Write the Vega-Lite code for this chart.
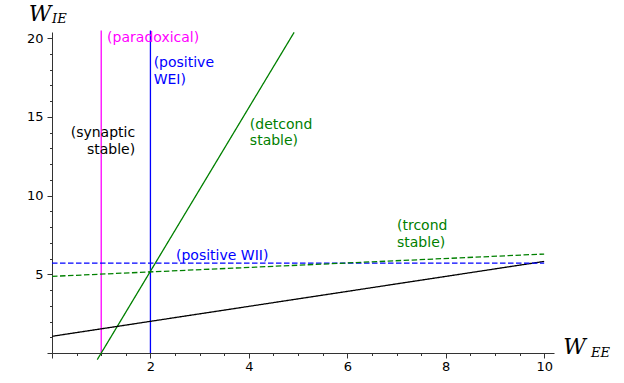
{
  "$schema": "https://vega.github.io/schema/vega-lite/v6.json",
  "width": 502,
  "height": 321,
  "autosize": "none",
  "padding": {"left": 52, "top": 32, "right": 70, "bottom": 30},
  "config": {
    "view": {"stroke": null},
    "axis": {"grid": false, "domainColor": "#333", "tickColor": "#333", "labelColor": "#000", "labelFont": "DejaVu Sans", "labelFontSize": 13, "domainWidth": 1, "tickWidth": 1}
  },
  "datasets": {
    "lines": [
      {"series": "paradoxical", "i": 0, "x": 1, "y": 0},
      {"series": "paradoxical", "i": 1, "x": 1, "y": 20.5},
      {"series": "positive WEI", "i": 0, "x": 2, "y": 0},
      {"series": "positive WEI", "i": 1, "x": 2, "y": 20.5},
      {"series": "detcond stable", "i": 0, "x": 0.92, "y": -0.42},
      {"series": "detcond stable", "i": 1, "x": 4.92, "y": 20.38},
      {"series": "synaptic stable", "i": 0, "x": 0, "y": 1.06},
      {"series": "synaptic stable", "i": 1, "x": 10, "y": 5.82},
      {"series": "positive WII", "i": 0, "x": 0, "y": 5.71},
      {"series": "positive WII", "i": 1, "x": 10, "y": 5.71},
      {"series": "trcond stable", "i": 0, "x": 0, "y": 4.87},
      {"series": "trcond stable", "i": 1, "x": 10, "y": 6.29}
    ],
    "labels": [
      {"series": "paradoxical", "label": "(paradoxical)", "x": 1.12, "y": 19.75},
      {"series": "positive WEI", "label": "(positive\nWEI)", "x": 2.065, "y": 18.16},
      {"series": "detcond stable", "label": "(detcond\nstable)", "x": 4.02, "y": 14.25},
      {"series": "trcond stable", "label": "(trcond\nstable)", "x": 7.01, "y": 7.79},
      {"series": "positive WII", "label": "(positive WII)", "x": 2.52, "y": 5.93}
    ],
    "rlabels": [
      {"series": "synaptic stable", "label": "(synaptic\nstable)", "x": 1.69, "y": 13.71}
    ],
    "symbols": [
      {"label": "W", "x": -0.47, "y": 21.09},
      {"label": "W", "x": 10.39, "y": -0.06}
    ],
    "subs": [
      {"label": "IE", "x": 0.0, "y": 21.0},
      {"label": "EE", "x": 10.95, "y": -0.24}
    ]
  },
  "resolve": {"axis": {"x": "independent", "y": "independent"}},
  "layer": [
    {
      "data": {"name": "lines"},
      "mark": {"type": "line", "strokeWidth": 1.3, "clip": false},
      "encoding": {
        "x": {"field": "x", "type": "quantitative", "scale": {"domain": [0, 10.2], "nice": false, "zero": false},
          "axis": {"orient": "bottom", "values": [0, 2, 4, 6, 8, 10], "labelExpr": "datum.value == 0 ? '' : datum.label", "tickSize": 5, "labelPadding": 2, "title": null}},
        "y": {"field": "y", "type": "quantitative", "scale": {"domain": [0, 20.4], "nice": false, "zero": false},
          "axis": {"orient": "left", "values": [0, 5, 10, 15, 20], "labelExpr": "datum.value == 0 ? '' : datum.label", "tickSize": 5, "labelPadding": 4, "title": null}},
        "detail": {"field": "series"},
        "order": {"field": "i"},
        "color": {"field": "series", "type": "nominal",
          "scale": {"domain": ["paradoxical", "positive WEI", "detcond stable", "synaptic stable", "positive WII", "trcond stable"],
                    "range": ["#ff00ff", "#0000ff", "#008000", "#000000", "#0000ff", "#008000"]}, "legend": null},
        "strokeDash": {"field": "series", "type": "nominal",
          "scale": {"domain": ["paradoxical", "positive WEI", "detcond stable", "synaptic stable", "positive WII", "trcond stable"],
                    "range": [[1, 0], [1, 0], [1, 0], [1, 0], [5.5, 2.5], [5.5, 2.5]]}, "legend": null}
      }
    },
    {
      "data": {"name": "lines"},
      "mark": {"type": "point", "opacity": 0},
      "encoding": {
        "x": {"field": "x", "type": "quantitative",
          "axis": {"orient": "bottom", "values": [0.5, 1, 1.5, 2.5, 3, 3.5, 4.5, 5, 5.5, 6.5, 7, 7.5, 8.5, 9, 9.5], "labels": false, "domain": false, "tickSize": 2.5, "title": null}},
        "y": {"field": "y", "type": "quantitative",
          "axis": {"orient": "left", "values": [1, 2, 3, 4, 6, 7, 8, 9, 11, 12, 13, 14, 16, 17, 18, 19], "labels": false, "domain": false, "tickSize": 2.5, "title": null}}
      }
    },
    {
      "data": {"name": "labels"},
      "mark": {"type": "text", "align": "left", "baseline": "alphabetic", "font": "DejaVu Sans", "fontSize": 14, "lineBreak": "\n", "lineHeight": 16.5, "clip": false},
      "encoding": {
        "x": {"field": "x", "type": "quantitative", "axis": null},
        "y": {"field": "y", "type": "quantitative", "axis": null},
        "text": {"field": "label"},
        "color": {"field": "series", "type": "nominal", "legend": null}
      }
    },
    {
      "data": {"name": "rlabels"},
      "mark": {"type": "text", "align": "right", "baseline": "alphabetic", "font": "DejaVu Sans", "fontSize": 14, "lineBreak": "\n", "lineHeight": 16.5, "clip": false},
      "encoding": {
        "x": {"field": "x", "type": "quantitative", "axis": null},
        "y": {"field": "y", "type": "quantitative", "axis": null},
        "text": {"field": "label"},
        "color": {"field": "series", "type": "nominal", "legend": null}
      }
    },
    {
      "data": {"name": "symbols"},
      "mark": {"type": "text", "align": "left", "baseline": "alphabetic", "font": "DejaVu Serif", "fontStyle": "italic", "fontSize": 22, "color": "#000", "clip": false},
      "encoding": {
        "x": {"field": "x", "type": "quantitative", "axis": null},
        "y": {"field": "y", "type": "quantitative", "axis": null},
        "text": {"field": "label"}
      }
    },
    {
      "data": {"name": "subs"},
      "mark": {"type": "text", "align": "left", "baseline": "alphabetic", "font": "DejaVu Serif", "fontStyle": "italic", "fontSize": 13, "color": "#000", "clip": false},
      "encoding": {
        "x": {"field": "x", "type": "quantitative", "axis": null},
        "y": {"field": "y", "type": "quantitative", "axis": null},
        "text": {"field": "label"}
      }
    }
  ]
}
